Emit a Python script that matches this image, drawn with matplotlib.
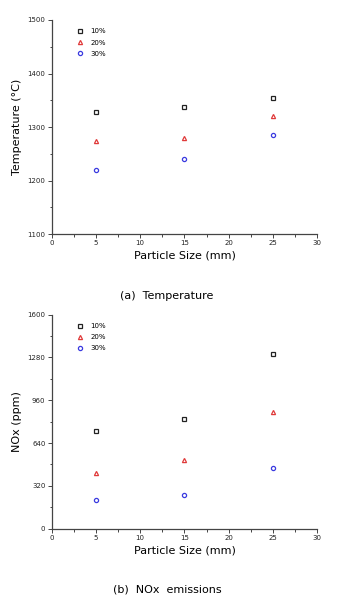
import numpy as np
import matplotlib.pyplot as plt
from matplotlib.ticker import MultipleLocator

sizes = [5, 15, 25]
labels = ['10%', '20%', '30%']
temp = [[1328, 1338, 1354],
        [1273, 1279, 1321],
        [1220, 1240, 1285]]
nox = [[733, 820, 1306],
       [414, 511, 875],
       [215, 254, 454]]

markers = ['s', '^', 'o']
colors = ['#222222', '#e03a3a', '#3a3ae0']

fig = plt.figure(figsize=(3.5, 5.97), dpi=100)
ax1 = fig.add_axes([0.1476, 0.608, 0.759, 0.3585])
ax2 = fig.add_axes([0.1476, 0.1144, 0.759, 0.3585])


def style(ax, ylim, major, minor, ylabel):
    for i in range(3):
        y = temp[i] if ax is ax1 else nox[i]
        ax.plot(sizes, y, linestyle='none', marker=markers[i], markersize=3.0,
                markerfacecolor='none', markeredgecolor=colors[i],
                markeredgewidth=0.9, label=labels[i])
    ax.set_xlim(0, 30)
    ax.set_ylim(*ylim)
    ax.xaxis.set_major_locator(MultipleLocator(5))
    ax.xaxis.set_minor_locator(MultipleLocator(2.5))
    ax.yaxis.set_major_locator(MultipleLocator(major))
    ax.yaxis.set_minor_locator(MultipleLocator(minor))
    for s in ['top', 'right']:
        ax.spines[s].set_visible(False)
    for s in ['left', 'bottom']:
        ax.spines[s].set_color('#444444')
        ax.spines[s].set_linewidth(0.9)
    ax.tick_params(which='major', length=3, width=0.7, labelsize=5,
                   colors='#444444', labelcolor='#222222', pad=1.5)
    ax.tick_params(which='minor', length=1.8, width=0.7, colors='#444444')
    ax.set_xlabel('Particle Size (mm)', fontsize=8, labelpad=3)
    ax.set_ylabel(ylabel, fontsize=8, labelpad=4)
    ax.legend(loc='upper left', bbox_to_anchor=(0.07, 0.99), frameon=False,
              fontsize=5, handletextpad=1.0, labelspacing=0.75,
              handlelength=1.0, markerscale=1.0)


style(ax1, (1100, 1500), 100, 50, 'Temperature (°C)')
style(ax2, (0, 1600), 320, 160, 'NOx (ppm)')

fig.text(0.477, 1 - 296 / 597, '(a)  Temperature', ha='center', va='center',
         fontsize=8)
fig.text(0.477, 1 - 590 / 597, '(b)  NOx  emissions', ha='center',
         va='center', fontsize=8)

fig.savefig('out.png', dpi=100)
